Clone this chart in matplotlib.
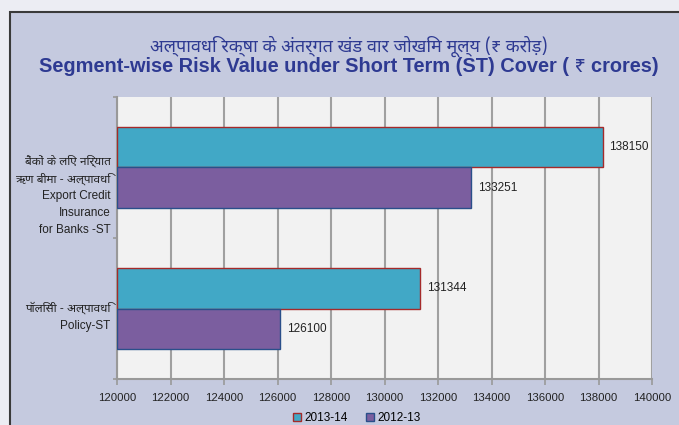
import numpy as np
import matplotlib.pyplot as plt
from matplotlib.patches import Rectangle
import matplotlib.transforms as mtransforms

# data
categories = [
    "बैंकों के लिए निर्यात\nऋण बीमा - अल्पावधि\nExport Credit\nInsurance\nfor Banks -ST",
    "पॉलिसी - अल्पावधि\nPolicy-ST",
]
series_names = ["2013-14", "2012-13"]
values_1314 = [138150, 131344]
values_1213 = [133251, 126100]
x_ticks = list(range(120000, 140001, 2000))

title_hi = "अल्पावधि रक्षा के अंतर्गत खंड वार जोखिम मूल्य (₹ करोड़)"
title_en = "Segment-wise Risk Value under Short Term (ST) Cover ( ₹ crores)"

hindi_fonts = ['Noto Sans Devanagari', 'Lohit Devanagari', 'FreeSans', 'Noto Sans', 'DejaVu Sans']
plt.rcParams['font.family'] = ['Liberation Sans'] + hindi_fonts

W, H = 679, 425
fig = plt.figure(figsize=(W / 100, H / 100), dpi=100)
fig.patch.set_facecolor('#ECEDF3')

# lavender panel with dark border
panel = Rectangle((10 / W, -0.05), 1.1, 1 - 12 / H + 0.05, transform=fig.transFigure,
                  facecolor='#C5CADF', edgecolor='#3A3A3A', linewidth=1.5, zorder=-5)
fig.patches.append(panel)

fig.text(349 / W, 1 - 46 / H, title_hi, ha='center', va='center', fontsize=13,
         color='#2E3A92', family=hindi_fonts, fontweight='semibold')
fig.text(349 / W, 1 - 67 / H, title_en, ha='center', va='center', fontsize=14.4,
         fontweight='bold', color='#2E3A92')

ax = fig.add_axes([117 / W, 1 - 379 / H, (652 - 117) / W, (379 - 97) / H])
ax.set_zorder(2)
ax.set_facecolor('#F2F2F2')

pos = np.arange(len(categories))
bh = 0.29
b1 = ax.barh(pos - bh / 2, np.array(values_1314) - 120000, left=120000, height=bh,
             color='#41A8C6', edgecolor='#A52A2A', linewidth=1.0, label=series_names[0], zorder=3)
b2 = ax.barh(pos + bh / 2, np.array(values_1213) - 120000, left=120000, height=bh,
             color='#7B5E9F', edgecolor='#2A4F8A', linewidth=1.0, label=series_names[1], zorder=3)

for bars, vals in ((b1, values_1314), (b2, values_1213)):
    for rect, v in zip(bars, vals):
        ax.annotate(str(v), (v, rect.get_y() + rect.get_height() / 2), xytext=(5, 0),
                    textcoords='offset points', ha='left', va='center', fontsize=8.5, color='#222222')

ax.set_xlim(120000, 140000)
ax.set_ylim(1.5, -0.5)
ax.set_xticks(x_ticks)
ax.set_xticklabels([str(t) for t in x_ticks], fontsize=8.2, color='#222222')
ax.tick_params(axis='x', length=4, color='#999999', width=1.2, pad=6)
ax.xaxis.grid(True, color='#A0A0A0', linewidth=1.5, zorder=1)
ax.set_axisbelow(True)

# category boundary ticks, labels placed separately
ax.set_yticks([-0.5, 0.5, 1.5])
ax.set_yticklabels([])
ax.tick_params(axis='y', length=3, color='#999999', width=1.2)
label_offsets = [0.2, 0.06]
trans = mtransforms.blended_transform_factory(ax.transAxes, ax.transData)
for p, lab, off in zip(pos, categories, label_offsets):
    ax.text(-0.012, p + off, lab, transform=trans, ha='right', va='center', fontsize=8.5,
            linespacing=1.55, color='#222222', family=['Liberation Sans'] + hindi_fonts)

for s in ('top', 'right'):
    ax.spines[s].set_visible(False)
for s in ('left', 'bottom'):
    ax.spines[s].set_color('#999999')
    ax.spines[s].set_linewidth(1.5)

leg = fig.legend(handles=[b1, b2], loc='center', bbox_to_anchor=(357 / W, 1 - 418 / H), ncol=2,
                 frameon=False, fontsize=8.5, handlelength=0.7, handleheight=0.7,
                 handletextpad=0.3, columnspacing=1.5)

fig.savefig('out.png', dpi=100, facecolor=fig.get_facecolor())
